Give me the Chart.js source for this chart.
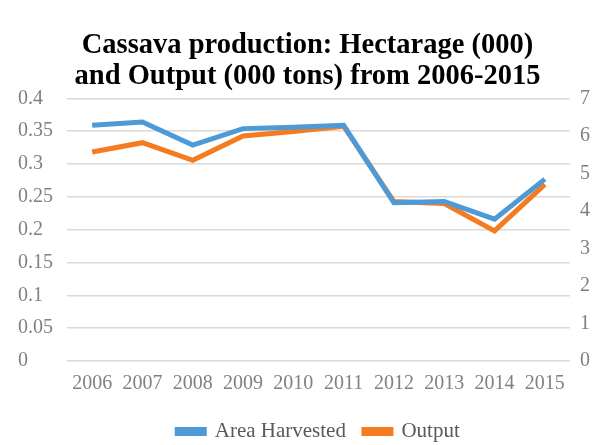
<!DOCTYPE html>
<html>
<head>
<meta charset="utf-8">
<script src="https://cdn.jsdelivr.net/npm/chart.js@4/dist/chart.umd.min.js"></script>
<style>
  body { margin: 0; background: #fff; }
  #wrap { width: 597px; height: 445px; }
</style>
</head>
<body>
<div id="wrap"><canvas id="myChart" width="597" height="445"></canvas></div>
<script>
const years = ['2006', '2007', '2008', '2009', '2010', '2011', '2012', '2013', '2014', '2015'];
// hectarage, left axis
const areaHarvested = [0.359, 0.364, 0.329, 0.354, 0.356, 0.359, 0.241, 0.243, 0.216, 0.277];
// output, right axis
const output = [5.57, 5.82, 5.35, 6.0, 6.12, 6.26, 4.25, 4.2, 3.47, 4.71];

const serif = "'Liberation Serif', 'DejaVu Serif', serif";
const grey = '#808080';

// legend sits lower than chart.js would put it, so trim its box
const legendHeight = {
  id: 'legendHeight',
  beforeInit(chart) {
    const origFit = chart.legend.fit;
    chart.legend.fit = function () {
      origFit.bind(chart.legend)();
      this.height = 42;
    };
  }
};

document.addEventListener('DOMContentLoaded', () => {
  const ctx = document.getElementById('myChart').getContext('2d');
  new Chart(ctx, {
    type: 'line',
    data: {
      labels: years,
      datasets: [{
        label: 'Area Harvested',
        data: areaHarvested,
        borderColor: '#4e9ad6',
        backgroundColor: '#4e9ad6',
        borderWidth: 5,
        pointRadius: 0,
        tension: 0,
        yAxisID: 'y'
      }, {
        label: 'Output',
        data: output,
        borderColor: '#f47b20',
        backgroundColor: '#f47b20',
        borderWidth: 5,
        pointRadius: 0,
        tension: 0,
        yAxisID: 'y1'
      }]
    },
    options: {
      responsive: false,
      animation: false,
      layout: { padding: { left: 18, right: 0, top: 8, bottom: 0 } },
      plugins: {
        title: {
          display: true,
          text: ['Cassava production: Hectarage (000)', 'and Output (000 tons) from 2006-2015'],
          color: '#000',
          font: { family: serif, size: 28.5, weight: 'bold', lineHeight: 1.06 },
          padding: { top: 23, bottom: 7 }
        },
        legend: {
          position: 'bottom',
          fullSize: false,
          labels: {
            color: '#595959',
            font: { family: serif, size: 21 },
            boxWidth: 27,
            boxHeight: 4,
            padding: 18
          }
        },
        tooltip: { enabled: false }
      },
      scales: {
        x: {
          offset: true,
          afterFit: scale => { scale.height = 42; },
          grid: { display: false, drawTicks: false },
          border: { display: false },
          ticks: { color: grey, font: { family: serif, size: 20 }, padding: 11 }
        },
        y: {
          position: 'left',
          min: 0,
          max: 0.4,
          afterFit: scale => { scale.width = 49; },
          ticks: {
            stepSize: 0.05,
            color: grey,
            font: { family: serif, size: 20 },
            crossAlign: 'far',
            callback: v => String(Number(v.toFixed(2)))
          },
          grid: { color: '#d9d9d9', lineWidth: 1.5, drawTicks: false },
          border: { display: false }
        },
        y1: {
          position: 'right',
          min: 0,
          max: 7,
          afterFit: scale => { scale.width = 27; },
          ticks: {
            stepSize: 1,
            color: grey,
            font: { family: serif, size: 20 },
            padding: 10
          },
          grid: { display: false, drawTicks: false },
          border: { display: false }
        }
      }
    },
    plugins: [legendHeight]
  });
});
</script>
</body>
</html>
